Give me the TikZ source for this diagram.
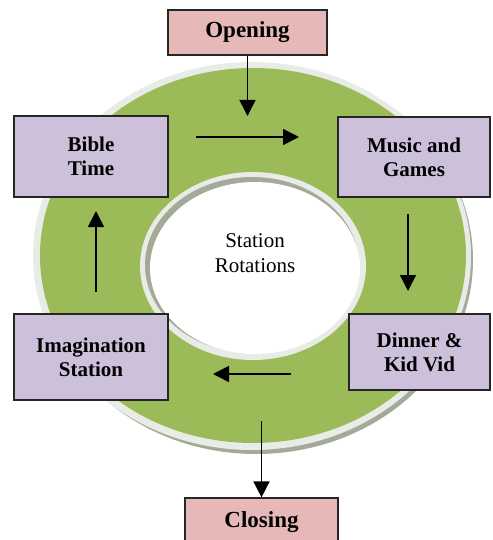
\documentclass[tikz,border=0pt]{standalone}
\usepackage{fontspec}
\setmainfont{Liberation Serif}
\usetikzlibrary{arrows.meta}
\definecolor{ringgreen}{HTML}{9BBB59}
\definecolor{ringrim}{HTML}{E9EBE6}
\definecolor{ringshade}{HTML}{A3AA98}
\definecolor{endpink}{HTML}{E6B9B8}
\definecolor{stationlilac}{HTML}{CCC0DA}
\begin{document}
\begin{tikzpicture}[x=1pt,y=-1pt,
    stationbox/.style={draw=black!85, line width=1.2pt, fill=stationlilac, align=center,
        font=\bfseries\fontsize{21}{24}\selectfont, inner sep=0pt},
    endbox/.style={draw=black!85, line width=1.2pt, fill=endpink, align=center,
        font=\bfseries\fontsize{23}{26}\selectfont, inner sep=0pt},
    flow/.style={line width=1.6pt, -{Triangle[width=16pt,length=16pt]}}]
    \useasboundingbox (0,0) rectangle (492,540);
    % ring
    \fill [ringshade] (256,260) ellipse [x radius=217, y radius=194];
    \fill [ringrim] (252,256) ellipse [x radius=219, y radius=194];
    \fill [ringgreen] (253,255.5) ellipse [x radius=213, y radius=187.5];
    \fill [ringrim] (253,266) ellipse [x radius=113, y radius=94];
    \fill [ringshade] (252,265) ellipse [x radius=107, y radius=88];
    \fill [white] (255,268) ellipse [x radius=105, y radius=86];
    \node (centre) at (255,253) [align=center, font=\fontsize{21}{25}\selectfont] {Station\\Rotations};
    % boxes
    \node (opening) at (247.5,32.5) [endbox, minimum width=159pt, minimum height=45pt] {Opening};
    \node (bible) at (91,156.5) [stationbox, minimum width=154pt, minimum height=81pt] {Bible\\Time};
    \node (music) at (414,157) [stationbox, minimum width=152pt, minimum height=80pt] {Music and\\Games};
    \node (dinner) at (419.5,352) [stationbox, minimum width=141pt, minimum height=76pt] {Dinner \&\\Kid Vid};
    \node (imagination) at (91,357) [stationbox, minimum width=154pt, minimum height=86pt] {Imagination\\Station};
    \node (closing) at (261.5,522) [endbox, minimum width=153pt, minimum height=48pt] {Closing};
    % arrows
    \coordinate (openend) at (247.5,116);
    \coordinate (topstart) at (196,137);
    \coordinate (topend) at (299,137);
    \coordinate (rightstart) at (408,214);
    \coordinate (rightend) at (408,291);
    \coordinate (bottomstart) at (291,374);
    \coordinate (bottomend) at (213,374);
    \coordinate (leftstart) at (96,292);
    \coordinate (leftend) at (96,211);
    \coordinate (closestart) at (261.5,421);
    \draw [flow] (opening) -- (openend);
    \draw [flow] (topstart) -- (topend);
    \draw [flow] (rightstart) -- (rightend);
    \draw [flow] (bottomstart) -- (bottomend);
    \draw [flow] (leftstart) -- (leftend);
    \draw [flow] (closestart) -- (closing);
\end{tikzpicture}
\end{document}
